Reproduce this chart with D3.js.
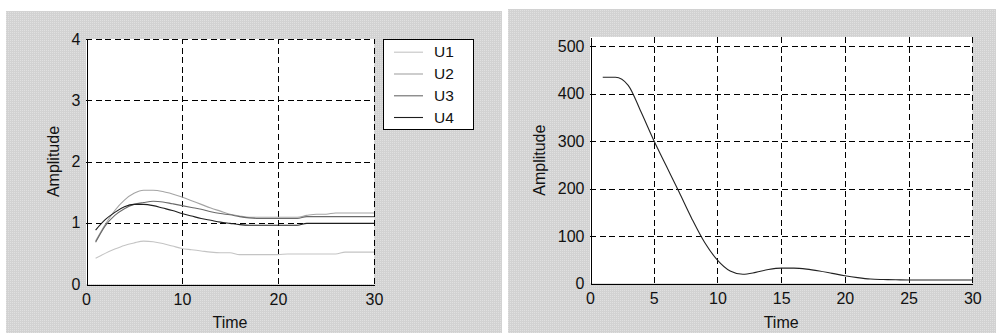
<!DOCTYPE html>
<html><head><meta charset="utf-8">
<script src="https://cdn.jsdelivr.net/npm/d3@7"></script>
<style>
html,body{margin:0;padding:0;background:#fff;}
svg{display:block;font-family:"Liberation Sans",Arial,sans-serif;}
</style></head>
<body><svg id="c" width="996" height="333"></svg>
<script>
// ---- data ----
const time = [1,2,3,4,5,6,7,8,9,10,11,12,13,14,15,16,17,18,19,20,21,22,23,24,25,26,27,28,29,30];
const seriesNames = ["U1","U2","U3","U4"];
const U1 = [0.42,0.50,0.57,0.63,0.67,0.70,0.69,0.66,0.62,0.58,0.56,0.54,0.52,0.51,0.51,0.48,0.48,0.48,0.48,0.48,0.49,0.49,0.49,0.49,0.49,0.49,0.52,0.52,0.52,0.52];
const U2 = [0.70,0.97,1.20,1.37,1.48,1.53,1.53,1.51,1.47,1.42,1.36,1.30,1.24,1.19,1.14,1.11,1.09,1.09,1.09,1.09,1.09,1.09,1.12,1.14,1.14,1.16,1.16,1.16,1.16,1.16];
const U3 = [0.68,0.95,1.12,1.23,1.30,1.33,1.35,1.34,1.31,1.28,1.25,1.22,1.18,1.15,1.13,1.10,1.08,1.07,1.07,1.07,1.07,1.07,1.10,1.10,1.10,1.10,1.10,1.10,1.10,1.10];
const U4 = [0.88,1.05,1.17,1.26,1.30,1.30,1.28,1.24,1.20,1.15,1.11,1.07,1.04,1.01,0.99,0.97,0.96,0.96,0.96,0.96,0.96,0.96,0.99,0.99,0.99,0.99,0.99,0.99,0.99,0.99];
const amplitude2 = [435,435,418,362,302,247,192,136,86,49,26,19,23,29,32,32,30,26,21,16,12,9,8,7.5,7,7,7,7,7,7];
const leftYTicks = [0,1,2,3,4];
const leftXTicks = [0,10,20,30];
const rightYTicks = [0,100,200,300,400,500];
const rightXTicks = [0,5,10,15,20,25,30];
const seriesColors = ["#c4c4c4","#a4a4a4","#6a6a6a","#1e1e1e"];

const svg = d3.select("#c");
const defs = svg.append("defs");
const pat = defs.append("pattern").attr("id","bg").attr("width",2).attr("height",2).attr("patternUnits","userSpaceOnUse");
pat.append("rect").attr("width",2).attr("height",2).attr("fill","#d2d2d2");
pat.append("rect").attr("width",1).attr("height",1).attr("fill","#e0e0e0");

function panel(opt){
  const g = svg.append("g");
  g.append("rect").attr("x",opt.px).attr("y",opt.py).attr("width",opt.pw).attr("height",opt.ph).attr("fill","url(#bg)");
  const x = d3.scaleLinear().domain(opt.xdom).range([opt.x0,opt.x1]);
  const y = d3.scaleLinear().domain(opt.ydom).range([opt.y0,opt.y1]);
  g.append("rect").attr("x",opt.x0).attr("y",opt.y1).attr("width",opt.x1-opt.x0).attr("height",opt.y0-opt.y1).attr("fill","#fff");
  // grid
  const grid = g.append("g").attr("stroke","#000").attr("stroke-width",1).attr("stroke-dasharray","6,3.6").attr("shape-rendering","crispEdges");
  opt.xt.filter(v=>v!==opt.xdom[0]).forEach(v=>{
    grid.append("line").attr("x1",Math.round(x(v))+0.5).attr("x2",Math.round(x(v))+0.5).attr("y1",opt.y0).attr("y2",opt.y1);
  });
  opt.yt.filter(v=>v!==opt.ydom[0]).forEach(v=>{
    grid.append("line").attr("y1",Math.round(y(v))+0.5).attr("y2",Math.round(y(v))+0.5).attr("x1",opt.x0).attr("x2",opt.x1);
  });
  // axes via d3
  const xa = d3.axisBottom(x).tickValues(opt.xt).tickSize(0).tickPadding(9).tickFormat(d3.format("d"));
  const ya = d3.axisLeft(y).tickValues(opt.yt).tickSize(0).tickPadding(6).tickFormat(d3.format("d"));
  const gx = g.append("g").attr("transform",`translate(0,${Math.round(opt.y0)+0.5})`).call(xa);
  const gy = g.append("g").attr("transform",`translate(${Math.round(opt.x0)+0.5},0)`).call(ya);
  [gx,gy].forEach(a=>{
    a.select(".domain").attr("stroke","#000").attr("shape-rendering","crispEdges");
    a.selectAll("text").attr("font-size",16).attr("fill","#111").attr("font-family","Liberation Sans, Arial, sans-serif");
  });
  g.append("text").attr("x",(opt.x0+opt.x1)/2).attr("y",opt.xlabY).attr("text-anchor","middle").attr("font-size",16).attr("fill","#111").text("Time");
  g.append("text").attr("transform",`translate(${opt.ylabX},${(opt.y0+opt.y1)/2}) rotate(-90)`).attr("text-anchor","middle").attr("font-size",16).attr("fill","#111").text("Amplitude");
  return {g,x,y};
}

// left panel
const L = panel({px:6,py:11,pw:496,ph:322,x0:86,x1:374,y0:284,y1:39,xdom:[0,30],ydom:[0,4],xt:leftXTicks,yt:leftYTicks,xlabY:328,ylabX:58.5});
const leftSeries = [U1,U2,U3,U4];
const lineL = d3.line().curve(d3.curveMonotoneX);
leftSeries.forEach((s,i)=>{
  L.g.append("path").attr("d",lineL(time.map((t,j)=>[L.x(t),L.y(s[j])]))).attr("fill","none").attr("stroke",seriesColors[i]).attr("stroke-width",1.1);
});
// legend
const lg = L.g.append("g");
lg.append("rect").attr("x",383.5).attr("y",39.5).attr("width",90).attr("height",90).attr("fill","#fff").attr("stroke","#000").attr("stroke-width",1);
const legY = [51.7,73.5,95.3,117];
seriesNames.forEach((n,i)=>{
  lg.append("line").attr("x1",394).attr("x2",423).attr("y1",legY[i]+0.5).attr("y2",legY[i]+0.5).attr("stroke",seriesColors[i]).attr("stroke-width",1.1);
  lg.append("text").attr("x",434).attr("y",legY[i]).attr("dy","0.36em").attr("font-size",15.5).attr("fill","#111").text(n);
});

// right panel
const R = panel({px:508,py:9,pw:488,ph:324,x0:590,x1:972.3,y0:283.3,y1:37,xdom:[0,30],ydom:[0,520],xt:rightXTicks,yt:rightYTicks,xlabY:328,ylabX:545});
R.g.append("path").attr("d",lineL(time.map((t,j)=>[R.x(t),R.y(amplitude2[j])]))).attr("fill","none").attr("stroke","#222").attr("stroke-width",1.1);
</script></body></html>
